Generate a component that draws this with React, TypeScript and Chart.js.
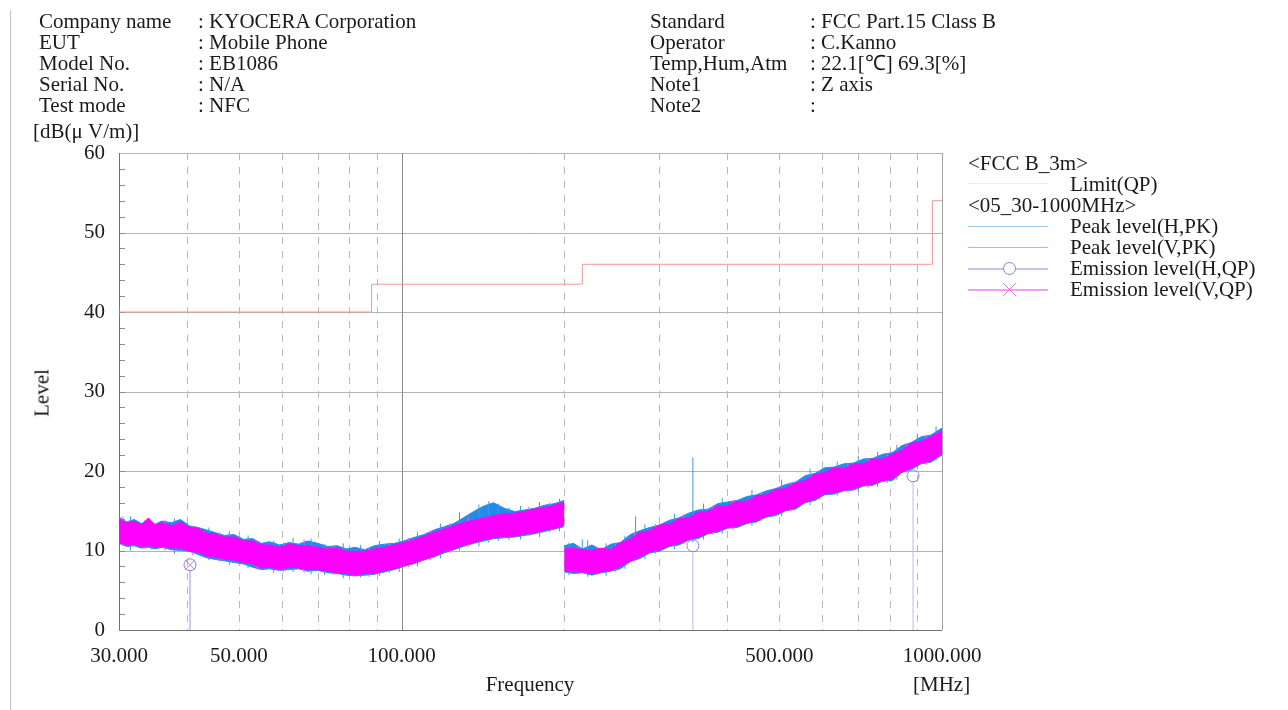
import React, { useEffect, useRef } from "react";
import { Chart, registerables } from "chart.js";

Chart.register(...registerables);

const FONT = "'Liberation Serif', 'Times New Roman', serif";

// ---- Data (MHz / dB(uV/m)) ----
const seg1Freq = [30, 31, 32, 33, 34, 35, 36, 37.5, 39, 40.5, 42, 43.5, 45, 47, 49, 51, 53, 55, 57, 59.5, 62, 64.5, 67, 70, 73, 76, 79, 82, 85.5, 89, 93, 97, 101, 105, 110, 115, 120, 125, 130, 136, 142, 148, 155, 162, 169, 176, 184, 192, 200];
const seg1HUpper = [14.2, 13.6, 13.9, 13.4, 13.8, 13.3, 13.7, 13.5, 13.9, 13.1, 12.9, 12.6, 12.3, 11.9, 12.0, 11.4, 11.5, 10.9, 11.1, 10.7, 11.0, 10.8, 11.2, 10.9, 10.5, 10.6, 10.2, 10.4, 10.1, 10.6, 10.8, 10.9, 11.2, 11.6, 12.0, 12.6, 13.0, 13.4, 14.1, 14.9, 15.6, 16.0, 15.3, 14.9, 15.1, 15.3, 15.7, 15.9, 16.3];
const seg1HLower = [10.9, 10.5, 10.6, 10.3, 10.4, 10.2, 10.4, 10.1, 10.0, 9.9, 9.5, 9.1, 8.9, 8.7, 8.5, 8.3, 7.9, 7.6, 7.7, 7.5, 7.6, 7.7, 7.4, 7.5, 7.2, 7.1, 6.9, 6.8, 6.9, 7.0, 7.3, 7.6, 8.0, 8.3, 8.8, 9.2, 9.7, 10.1, 10.5, 10.9, 11.2, 11.5, 11.6, 11.7, 11.9, 12.1, 12.4, 12.7, 13.0];
const seg1VUpper = [13.9, 13.5, 13.7, 13.2, 14.1, 13.2, 13.5, 13.1, 13.6, 12.9, 12.8, 12.2, 12.1, 11.7, 11.7, 11.2, 11.2, 10.7, 10.7, 10.4, 10.8, 10.6, 10.6, 10.4, 10.2, 10.3, 9.9, 9.9, 9.9, 10.2, 10.4, 10.7, 11.0, 11.3, 11.8, 12.3, 12.7, 13.1, 13.5, 13.8, 14.1, 14.4, 14.6, 14.7, 14.9, 15.2, 15.4, 15.7, 16.1];
const seg1VLower = [11.0, 10.7, 10.8, 10.5, 10.6, 10.4, 10.5, 10.3, 10.3, 9.9, 9.8, 9.3, 9.2, 8.9, 8.8, 8.5, 8.3, 7.8, 7.9, 7.6, 7.9, 7.8, 7.6, 7.6, 7.4, 7.2, 7.1, 6.9, 7.1, 7.1, 7.5, 7.7, 8.1, 8.4, 8.9, 9.3, 9.9, 10.2, 10.7, 11.0, 11.4, 11.6, 11.8, 11.8, 12.1, 12.2, 12.6, 12.8, 13.2];

const seg2Freq = [200, 208, 216, 225, 234, 244, 254, 265, 276, 288, 300, 313, 326, 340, 354, 369, 385, 401, 418, 436, 454, 473, 493, 514, 536, 558, 582, 606, 632, 658, 686, 715, 745, 776, 809, 843, 878, 915, 953, 1000];
const seg2HUpper = [10.6, 10.9, 10.2, 10.7, 10.1, 10.8, 11.0, 12.0, 12.5, 12.9, 13.2, 13.8, 14.1, 14.7, 15.1, 15.2, 15.9, 16.1, 16.3, 16.8, 17.0, 17.5, 17.8, 18.3, 18.6, 19.4, 19.7, 20.4, 20.5, 20.9, 21.0, 21.5, 21.6, 22.1, 22.3, 23.2, 23.6, 24.3, 24.5, 25.4];
const seg2HLower = [7.3, 7.1, 7.2, 6.9, 7.2, 7.4, 7.7, 8.6, 9.0, 9.7, 9.9, 10.5, 10.7, 11.3, 11.5, 12.1, 12.3, 12.8, 12.9, 13.4, 13.6, 14.2, 14.4, 15.0, 15.2, 16.0, 16.3, 17.0, 17.1, 17.5, 17.6, 18.1, 18.2, 18.7, 18.8, 19.8, 20.2, 20.9, 21.1, 22.0];
const seg2VUpper = [10.2, 10.3, 10.1, 10.0, 10.3, 10.1, 11.0, 11.4, 12.3, 12.5, 13.2, 13.3, 14.0, 14.1, 14.8, 14.9, 15.6, 15.6, 16.2, 16.2, 16.9, 17.0, 17.7, 17.8, 18.5, 18.8, 19.6, 19.8, 20.4, 20.3, 20.9, 20.9, 21.5, 21.5, 22.1, 22.6, 23.5, 23.7, 24.3, 25.0];
const seg2VLower = [7.5, 7.3, 7.3, 7.1, 7.3, 7.5, 8.0, 8.7, 9.2, 9.8, 10.1, 10.6, 10.9, 11.4, 11.7, 12.2, 12.5, 12.9, 13.1, 13.5, 13.8, 14.3, 14.6, 15.1, 15.4, 16.1, 16.5, 17.1, 17.3, 17.6, 17.8, 18.2, 18.4, 18.8, 19.0, 19.9, 20.4, 21.0, 21.3, 22.2];

// individual noise spikes of the peak traces
const hSpikeFreq = [31.5, 34.5, 38, 44, 48, 52, 58, 63, 68, 72, 78, 84, 91, 99, 107, 118, 128, 139, 145, 151, 158, 166, 180, 196, 204, 216, 221, 239, 259, 271, 282, 320, 346, 362, 392, 445, 505, 570, 640, 700, 760, 825, 900, 975];
const hSpikeLow = [10.0, 10.1, 9.6, 8.8, 8.2, 7.8, 7.2, 7.3, 7.0, 6.9, 6.5, 6.6, 6.8, 7.3, 8.0, 9.0, 10.0, 10.5, 11.0, 11.2, 11.3, 11.4, 11.7, 12.4, 6.9, 8.0, 6.7, 6.8, 7.7, 9.0, 8.9, 10.2, 11.0, 11.4, 12.1, 13.1, 14.3, 15.7, 16.9, 17.4, 18.0, 18.9, 20.2, 21.3];
const hSpikeHigh = [14.3, 13.4, 14.0, 12.9, 12.4, 11.9, 11.2, 11.6, 11.5, 10.8, 10.9, 10.7, 11.2, 11.5, 12.3, 13.4, 14.8, 15.8, 16.2, 15.9, 15.4, 15.6, 16.1, 16.5, 11.0, 11.4, 11.3, 10.9, 11.8, 14.3, 13.3, 14.6, 21.7, 15.9, 16.6, 17.6, 18.9, 20.3, 21.2, 21.9, 22.4, 23.3, 24.6, 25.6];
const vSpikeFreq = [30.5, 33.5, 36.5, 41, 46, 54, 60.5, 66, 75, 87, 95, 103, 113, 123, 133, 172, 188, 212, 230, 249, 270, 295, 333, 376, 410, 463, 525, 594, 670, 730, 792, 860, 935];
const vSpikeLow = [10.6, 10.2, 10.0, 9.4, 8.6, 7.6, 7.3, 7.2, 6.9, 6.7, 7.2, 7.9, 8.8, 9.7, 10.5, 11.8, 12.3, 7.0, 6.9, 7.3, 8.6, 9.6, 10.8, 12.0, 12.6, 13.7, 14.9, 16.4, 17.3, 17.9, 18.5, 19.8, 20.8];
const vSpikeHigh = [14.3, 13.8, 13.9, 13.1, 12.3, 11.3, 11.0, 11.4, 10.6, 10.3, 11.0, 11.6, 12.5, 13.4, 14.1, 15.5, 16.0, 10.6, 10.4, 11.0, 12.3, 13.3, 14.6, 15.6, 16.3, 17.3, 18.6, 20.1, 21.0, 21.6, 22.2, 23.5, 24.5];

const limitFreq = [30, 88, 88, 216, 216, 960, 960, 1000];
const limitLevel = [40, 40, 43.5, 43.5, 46, 46, 54, 54];

const qpHFreq = [40.6, 346, 884];
const qpHLevel = [8.2, 10.6, 19.4];
const qpVFreq = [40.6];
const qpVLevel = [8.2];

const xGridTicks = [30, 40, 50, 60, 70, 80, 90, 100, 200, 300, 400, 500, 600, 700, 800, 900, 1000];
const xLabelTicks = [30, 50, 100, 500, 1000];
const yTicks = [0, 10, 20, 30, 40, 50, 60];

const headerLeftLabels = ["Company name", "EUT", "Model No.", "Serial No.", "Test mode"];
const headerLeftValues = [": KYOCERA Corporation", ": Mobile Phone", ": EB1086", ": N/A", ": NFC"];
const headerRightLabels = ["Standard", "Operator", "Temp,Hum,Atm", "Note1", "Note2"];
const headerRightValues = [": FCC Part.15 Class B", ": C.Kanno", ": 22.1[℃] 69.3[%]", ": Z axis", ":"];

const BLUE = "rgb(35,140,235)";
const MAGENTA = "rgb(255,0,255)";

const zip = (xs: number[], ys: number[]) => xs.map((x, i) => ({ x, y: ys[i] }));
const vLines = (xs: number[], y0: number[], y1: number[]) => {
  const out: any[] = [];
  xs.forEach((x, i) => {
    out.push({ x, y: y0[i] }, { x, y: y1[i] }, { x, y: null });
  });
  return out;
};

const gridPlugin = {
  id: "emcGrid",
  beforeDatasetsDraw(chart: any) {
    const { ctx, chartArea: a, scales } = chart;
    const xs = scales.x;
    const ys = scales.y;
    ctx.save();
    ctx.lineWidth = 1;
    ctx.strokeStyle = "#b4b4b4";
    yTicks.forEach((v) => {
      if (v === 0) return;
      const py = Math.round(ys.getPixelForValue(v)) + 0.5;
      ctx.beginPath();
      ctx.moveTo(a.left, py);
      ctx.lineTo(a.right, py);
      ctx.stroke();
    });
    xGridTicks.forEach((f) => {
      if (f === 30) return;
      const px = Math.round(xs.getPixelForValue(f)) + 0.5;
      ctx.beginPath();
      if (f === 100) {
        ctx.setLineDash([]);
        ctx.strokeStyle = "#8a8a8a";
      } else if (f === 1000) {
        ctx.setLineDash([]);
        ctx.strokeStyle = "#a0a0a0";
      } else {
        ctx.setLineDash([7, 7]);
        ctx.strokeStyle = "#b8b8b8";
      }
      ctx.moveTo(px, a.top);
      ctx.lineTo(px, a.bottom);
      ctx.stroke();
    });
    ctx.setLineDash([]);
    ctx.strokeStyle = "#8a8a8a";
    for (let v = 2; v < 60; v += 2) {
      const py = Math.round(ys.getPixelForValue(v)) + 0.5;
      ctx.beginPath();
      ctx.moveTo(a.left, py);
      ctx.lineTo(a.left + 6, py);
      ctx.stroke();
    }
    ctx.strokeStyle = "#707070";
    ctx.beginPath();
    ctx.moveTo(Math.round(a.left) + 0.5, a.top);
    ctx.lineTo(Math.round(a.left) + 0.5, Math.round(a.bottom) + 0.5);
    ctx.lineTo(a.right, Math.round(a.bottom) + 0.5);
    ctx.stroke();
    ctx.restore();
  },
};

const textStyle: React.CSSProperties = {
  position: "absolute",
  fontFamily: FONT,
  fontSize: 21,
  lineHeight: "21px",
  color: "#1a1a1a",
  whiteSpace: "pre",
};

function Column({ left, top, lines }: { left: number; top: number; lines: string[] }) {
  return (
    <div style={{ ...textStyle, left, top }}>
      {lines.map((l, i) => (
        <div key={i} style={{ height: 21 }}>{l}</div>
      ))}
    </div>
  );
}

function LegendLine({ top, color, width = 1 }: { top: number; color: string; width?: number }) {
  return <div style={{ position: "absolute", left: 968, top, width: 80, height: width, background: color }} />;
}

export default function App() {
  const canvasRef = useRef<HTMLCanvasElement | null>(null);

  useEffect(() => {
    const canvas = canvasRef.current;
    if (!canvas) return;
    const band = (lo: number[], up: number[], f: number[], color: string, order: number, loIndex: number) => [
      { data: zip(f, lo), borderColor: color, borderWidth: 1, backgroundColor: color, pointRadius: 0, fill: false, order },
      { data: zip(f, up), borderColor: color, borderWidth: 1, backgroundColor: color, pointRadius: 0, fill: { target: loIndex }, order },
    ];
    const datasets: any[] = [
      ...band(seg1HLower, seg1HUpper, seg1Freq, BLUE, 5, 0),
      ...band(seg2HLower, seg2HUpper, seg2Freq, BLUE, 5, 2),
      ...band(seg1VLower, seg1VUpper, seg1Freq, MAGENTA, 3, 4),
      ...band(seg2VLower, seg2VUpper, seg2Freq, MAGENTA, 3, 6),
      { data: vLines(hSpikeFreq, hSpikeLow, hSpikeHigh), borderColor: "rgb(60,150,235)", borderWidth: 1, pointRadius: 0, fill: false, order: 4, spanGaps: false },
      { data: vLines(vSpikeFreq, vSpikeLow, vSpikeHigh), borderColor: "rgb(240,90,240)", borderWidth: 1, pointRadius: 0, fill: false, order: 3.5, spanGaps: false },
      { data: zip(limitFreq, limitLevel), borderColor: "rgb(240,150,150)", borderWidth: 1, pointRadius: 0, fill: false, order: 2 },
      { data: vLines(qpHFreq, qpHFreq.map(() => 0), qpHLevel.map((v) => v - 0.75)), borderColor: "rgb(185,185,240)", borderWidth: 1, pointRadius: 0, fill: false, order: 1, spanGaps: false },
      { data: vLines(qpVFreq, qpVFreq.map(() => 0), qpVLevel.map((v) => v - 0.75)), borderColor: "rgb(225,160,235)", borderWidth: 1, pointRadius: 0, fill: false, order: 1, spanGaps: false },
      { data: zip(qpHFreq, qpHLevel), showLine: false, pointStyle: "circle", pointRadius: 6, pointBorderWidth: 1, pointBorderColor: "rgb(130,130,225)", pointBackgroundColor: "rgba(0,0,0,0)", order: 0 },
      { data: zip(qpVFreq, qpVLevel), showLine: false, pointStyle: "crossRot", pointRadius: 7, pointBorderWidth: 1, pointBorderColor: "rgb(235,110,235)", pointBackgroundColor: "rgba(0,0,0,0)", order: 0 },
    ];

    const chart = new Chart(canvas, {
      type: "line",
      data: { datasets },
      options: {
        animation: false,
        responsive: false,
        maintainAspectRatio: false,
        layout: { padding: { left: 0, top: 153, right: 346, bottom: 0 } },
        plugins: { legend: { display: false }, tooltip: { enabled: false } },
        elements: { line: { tension: 0 } },
        scales: {
          x: {
            type: "logarithmic",
            min: 30,
            max: 1000,
            grid: { display: false, drawTicks: false },
            border: { display: false },
            afterBuildTicks: (s: any) => {
              s.ticks = xGridTicks.map((v) => ({ value: v }));
            },
            afterFit: (s: any) => {
              s.height = 80;
            },
            ticks: {
              autoSkip: false,
              maxRotation: 0,
              minRotation: 0,
              padding: 14,
              color: "#1a1a1a",
              font: { family: FONT, size: 21 },
              callback: (v: any) => (xLabelTicks.includes(Number(v)) ? Number(v).toFixed(3) : ""),
            },
          },
          y: {
            min: 0,
            max: 60,
            grid: { display: false, drawTicks: false },
            border: { display: false },
            afterBuildTicks: (s: any) => {
              s.ticks = yTicks.map((v) => ({ value: v }));
            },
            afterFit: (s: any) => {
              s.width = 119;
            },
            ticks: { padding: 14, color: "#1a1a1a", font: { family: FONT, size: 21 } },
          },
        },
      } as any,
      plugins: [gridPlugin],
    });
    return () => chart.destroy();
  }, []);

  return (
    <div style={{ position: "absolute", left: 0, top: 0, width: 1288, height: 710, background: "#fff", overflow: "hidden" }}>
      <canvas ref={canvasRef} width={1288} height={710} style={{ position: "absolute", left: 0, top: 0, width: 1288, height: 710 }} />
      <div style={{ position: "absolute", left: 10, top: 10, width: 1, height: 700, background: "#c0c0c0" }} />
      <Column left={39} top={11} lines={headerLeftLabels} />
      <Column left={198} top={11} lines={headerLeftValues} />
      <Column left={650} top={11} lines={headerRightLabels} />
      <Column left={810} top={11} lines={headerRightValues} />
      <div style={{ ...textStyle, left: 33, top: 121 }}>[dB(μ V/m)]</div>
      <div style={{ ...textStyle, left: 42, top: 393, transform: "translate(-50%,-50%) rotate(-90deg)" }}>Level</div>
      <div style={{ ...textStyle, left: 530, top: 674, transform: "translateX(-50%)" }}>Frequency</div>
      <div style={{ ...textStyle, left: 913, top: 674 }}>[MHz]</div>
      <div style={{ ...textStyle, left: 968, top: 153 }}>{"<FCC B_3m>"}</div>
      <LegendLine top={183} color="rgb(250,232,232)" />
      <div style={{ ...textStyle, left: 1070, top: 174 }}>Limit(QP)</div>
      <div style={{ ...textStyle, left: 968, top: 195 }}>{"<05_30-1000MHz>"}</div>
      <LegendLine top={226} color="rgb(150,205,240)" />
      <div style={{ ...textStyle, left: 1070, top: 216 }}>Peak level(H,PK)</div>
      <LegendLine top={247} color="rgb(240,150,240)" />
      <div style={{ ...textStyle, left: 1070, top: 237 }}>Peak level(V,PK)</div>
      <LegendLine top={268} color="rgb(195,195,240)" width={2} />
      <div style={{ position: "absolute", left: 1003, top: 262, width: 11, height: 11, borderRadius: "50%", border: "1px solid rgb(130,130,225)", background: "#fff" }} />
      <div style={{ ...textStyle, left: 1070, top: 258 }}>Emission level(H,QP)</div>
      <LegendLine top={289} color="rgb(240,160,240)" width={2} />
      <svg style={{ position: "absolute", left: 1002, top: 282 }} width={15} height={15}>
        <path d="M1 1 L14 14 M14 1 L1 14" stroke="rgb(235,110,235)" strokeWidth={1} />
      </svg>
      <div style={{ ...textStyle, left: 1070, top: 279 }}>Emission level(V,QP)</div>
    </div>
  );
}
